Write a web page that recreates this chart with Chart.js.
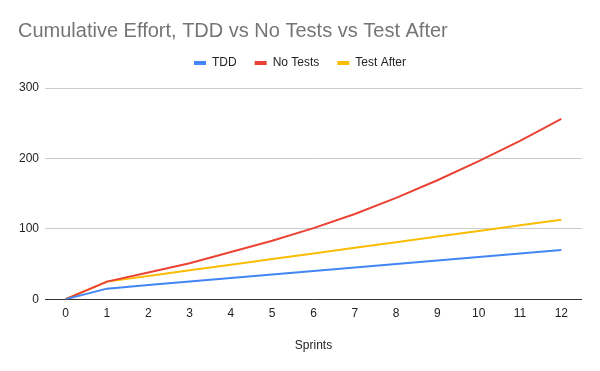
<!DOCTYPE html>
<html>
<head>
<meta charset="utf-8">
<script src="https://cdn.jsdelivr.net/npm/chart.js@4"></script>
<style>
  html, body { margin: 0; padding: 0; background: #fff; }
  #wrap { width: 600px; height: 371px; }
</style>
</head>
<body>
<div id="wrap"><canvas id="myChart" width="600" height="371"></canvas></div>
<script>
// data
let sprints = ['0', '1', '2', '3', '4', '5', '6', '7', '8', '9', '10', '11', '12'];
let tddEffort = [0, 15, 20, 25, 30, 35, 40, 45, 50, 55, 60, 65, 70];
let noTestsEffort = [0, 25, 38, 51, 67, 83, 101, 121, 144, 169, 196, 225, 256];
let testAfterEffort = [0, 25, 33, 41, 49, 57, 65, 73, 81, 89, 97, 105, 113];

const fontName = "'Liberation Sans', Arial, sans-serif";

function makeDataset(label, data, color) {
    return {
        label: label,
        data: data,
        borderColor: color,
        backgroundColor: color,
        borderWidth: 2,
        pointRadius: 0,
        tension: 0
    };
}

// add some space below the legend
const legendSpacer = {
    id: 'legendSpacer',
    beforeInit(chart) {
        const origFit = chart.legend.fit;
        chart.legend.fit = function () {
            origFit.bind(chart.legend)();
            this.height += 9;
        };
    }
};

const ctx = document.getElementById('myChart').getContext('2d');
let myChart = new Chart(ctx, {
    type: 'line',
    data: {
        labels: sprints,
        datasets: [
            makeDataset('TDD', tddEffort, '#4285F4'),
            makeDataset('No Tests', noTestsEffort, '#EA4335'),
            makeDataset('Test After', testAfterEffort, '#FBBC04')
        ]
    },
    plugins: [legendSpacer],
    options: {
        responsive: false,
        animation: false,
        layout: {
            padding: { left: 18, right: 18, top: 0, bottom: 18 }
        },
        plugins: {
            title: {
                display: true,
                text: 'Cumulative Effort, TDD vs No Tests vs Test After',
                align: 'start',
                color: '#757575',
                font: { family: fontName, size: 20, weight: 'normal' },
                padding: { top: 19, bottom: -4 }
            },
            legend: {
                display: true,
                labels: {
                    boxWidth: 12,
                    boxHeight: 4,
                    padding: 18,
                    color: '#222',
                    font: { family: fontName, size: 12 },
                    generateLabels: function (chart) {
                        let items = Chart.defaults.plugins.legend.labels.generateLabels(chart);
                        items.forEach(function (it) { it.lineWidth = 0; });
                        return items;
                    }
                }
            },
            tooltip: { enabled: false }
        },
        scales: {
            x: {
                offset: true,
                grid: { display: false, drawTicks: false },
                border: { display: false },
                ticks: {
                    color: '#222',
                    font: { family: fontName, size: 12 },
                    padding: 7,
                    maxRotation: 0,
                    autoSkip: false
                },
                title: {
                    display: true,
                    text: 'Sprints',
                    color: '#222',
                    font: { family: fontName, size: 12 },
                    padding: { top: 11, bottom: 0 }
                }
            },
            y: {
                min: 0,
                max: 300,
                grid: {
                    drawTicks: false,
                    color: function (c) { return c.tick && c.tick.value === 0 ? '#333' : '#cccccc'; },
                    lineWidth: 1
                },
                border: { display: false },
                ticks: {
                    stepSize: 100,
                    color: '#222',
                    font: { family: fontName, size: 12 },
                    padding: 6
                },
                afterFit: function (scale) { scale.width = 27; }
            }
        }
    }
});
</script>
</body>
</html>
